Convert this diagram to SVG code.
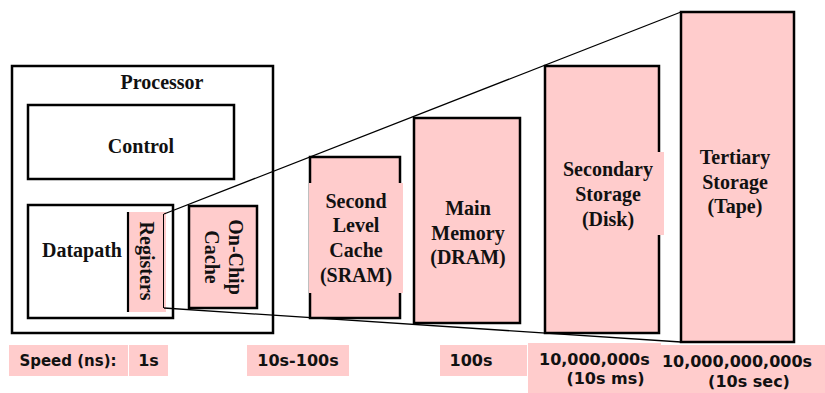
<svg xmlns="http://www.w3.org/2000/svg" width="825" height="393" viewBox="0 0 825 393">
<style>
.box{fill:none;stroke:#000;stroke-width:2.5}
.pbox{fill:#ffcccc;stroke:#000;stroke-width:2.5}
.pink{fill:#ffcccc}
.t{font-family:"Liberation Serif","Times New Roman",serif;font-weight:bold;font-size:20px;fill:#111;text-anchor:middle}
.s{font-family:"DejaVu Sans",sans-serif;font-weight:bold;font-size:16px;fill:#111;text-anchor:middle}
.ln{stroke:#000;stroke-width:1.3;fill:none}
</style>
<rect width="825" height="393" fill="#fff"/>
<g id="processor">
<rect class="box" x="12" y="66" width="261" height="267"/>
<text class="t" x="162" y="89">Processor</text>
</g>
<g id="control">
<rect class="box" x="28" y="105" width="206" height="74"/>
<text class="t" x="141" y="153">Control</text>
</g>
<g id="datapath">
<rect class="box" x="28" y="205" width="145" height="113"/>
<text class="t" x="82" y="257">Datapath</text>
</g>
<g id="registers">
<rect class="pink" x="127" y="212" width="39" height="100"/>
<line x1="128" y1="212" x2="128" y2="312" stroke="#000" stroke-width="2.2"/>
<line x1="163.5" y1="214" x2="163.5" y2="308" stroke="#000" stroke-width="1"/>
<text class="t" transform="translate(147,261) rotate(90)" y="7">Registers</text>
</g>
<g id="onchip-cache">
<rect class="pbox" x="189" y="206" width="68" height="102"/>
<text class="t" transform="translate(224,257) rotate(90)"><tspan x="0" y="-5">On-Chip</tspan><tspan x="0" y="19">Cache</tspan></text>
</g>
<g id="connectors">
<line class="ln" x1="164" y1="214" x2="681" y2="12"/>
<line class="ln" x1="164" y1="308" x2="681" y2="342"/>
</g>
<g id="l2-cache">
<rect class="pbox" x="310" y="157" width="90" height="161"/>
<rect class="pink" x="309" y="183" width="94" height="110"/>
<text class="t"><tspan x="356" y="208">Second</tspan><tspan x="356" y="232">Level</tspan><tspan x="356" y="257">Cache</tspan><tspan x="356" y="282">(SRAM)</tspan></text>
</g>
<g id="main-memory">
<rect class="pbox" x="414" y="118" width="106" height="205"/>
<text class="t"><tspan x="468" y="215">Main</tspan><tspan x="468" y="240">Memory</tspan><tspan x="468" y="264">(DRAM)</tspan></text>
</g>
<g id="secondary-storage">
<rect class="pbox" x="545" y="66" width="114" height="267"/>
<rect class="pink" x="560" y="152" width="104" height="83"/>
<text class="t"><tspan x="608" y="176">Secondary</tspan><tspan x="608" y="201">Storage</tspan><tspan x="608" y="226">(Disk)</tspan></text>
</g>
<g id="tertiary-storage">
<rect class="pbox" x="681" y="12" width="113" height="330"/>
<text class="t"><tspan x="735" y="164">Tertiary</tspan><tspan x="735" y="189">Storage</tspan><tspan x="735" y="213">(Tape)</tspan></text>
</g>
<g id="speed-labels">
<rect class="pink" x="9" y="345" width="119" height="31"/>
<text class="s" x="68" y="366" style="font-size:15px">Speed (ns):</text>
<rect class="pink" x="129" y="345" width="39" height="31"/>
<text class="s" x="148.5" y="366">1s</text>
<rect class="pink" x="247" y="345" width="102" height="31"/>
<text class="s" x="298" y="366">10s-100s</text>
<rect class="pink" x="440" y="345" width="87" height="31"/>
<text class="s" x="471" y="366">100s</text>
<rect class="pink" x="528" y="343" width="133" height="50"/>
<text class="s" x="539" y="365" style="text-anchor:start">10,000,000s</text>
<text class="s" x="605.5" y="384">(10s ms)</text>
<rect class="pink" x="661" y="345" width="164" height="48"/>
<text class="s" x="737" y="367">10,000,000,000s</text>
<text class="s" x="749" y="387">(10s sec)</text>
</g>
</svg>
